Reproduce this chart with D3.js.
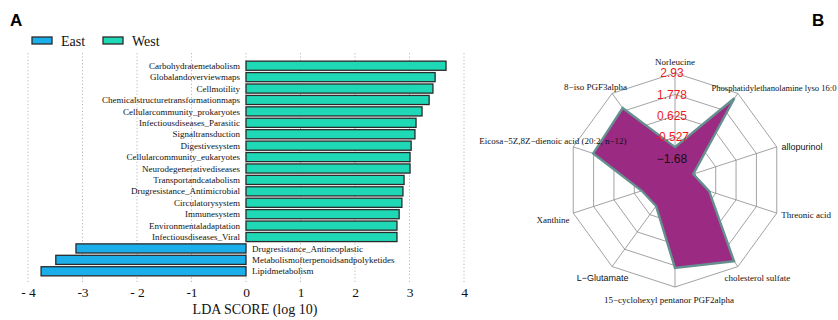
<!DOCTYPE html>
<html>
<head>
<meta charset="utf-8">
<script src="https://cdn.jsdelivr.net/npm/d3@7"></script>
<style>
  html, body { margin: 0; padding: 0; background: #fff; }
  svg { display: block; }
</style>
</head>
<body>
<svg id="chart" width="838" height="320"></svg>
<script>
// ---------- Panel A data ----------
const categories = [
  "Carbohydratemetabolism", "Globalandoverviewmaps", "Cellmotility",
  "Chemicalstructuretransformationmaps", "Cellularcommunity_prokaryotes",
  "Infectiousdiseases_Parasitic", "Signaltransduction", "Digestivesystem",
  "Cellularcommunity_eukaryotes", "Neurodegenerativediseases",
  "Transportandcatabolism", "Drugresistance_Antimicrobial", "Circulatorysystem",
  "Immunesystem", "Environmentaladaptation", "Infectiousdiseases_Viral",
  "Drugresistance_Antineoplastic", "Metabolismofterpenoidsandpolyketides",
  "Lipidmetabolism"
];
const ldaScores = [
  3.67, 3.47, 3.43, 3.36, 3.23, 3.12, 3.10, 3.03, 3.01, 3.01,
  2.90, 2.88, 2.86, 2.81, 2.77, 2.77,
  -3.12, -3.49, -3.76
];
const groups = [
  "West","West","West","West","West","West","West","West","West","West",
  "West","West","West","West","West","West",
  "East","East","East"
];
const legendGroups = ["East", "West"];
const tickValues = [-4, -3, -2, -1, 0, 1, 2, 3, 4];
const tickLabels = ["- 4", "-3", "- 2", "-1", "0", "1", "2", "3", "4"];

// ---------- Panel B data ----------
const radarAxes = [
  "Norleucine",
  "Phosphatidylethanolamine lyso 16:0",
  "allopurinol",
  "Threonic acid",
  "cholesterol sulfate",
  "15\u2212cyclohexyl pentanor PGF2alpha",
  "L\u2212Glutamate",
  "Xanthine",
  "Eicosa\u22125Z,8Z\u2212dienoic acid (20:2, n\u221212)",
  "8\u2212iso PGF3alpha"
];
const radarValues = [-1.06, 2.61, -1.80, -0.90, 2.58, 1.91, -1.10, -0.95, 1.80, 1.96];
const ringValues = [2.93, 1.778, 0.625, -0.527, -1.68];
const ringLabels = ["2.93", "1.778", "0.625", "-0.527", "\u22121.68"];
const ringLabelColors = ["#ee1c1c", "#ee1c1c", "#ee1c1c", "#ee1c1c", "#111"];

// ---------- styling / layout (not data) ----------
const colors = { East: "#1aaeea", West: "#1fd8b6" };
const serif = "'Liberation Serif', 'Times New Roman', serif";
const sans = "'Liberation Sans', Arial, sans-serif";
const radarFontFamily = [serif, serif, sans, serif, serif, serif, sans, serif, serif, serif];
const radarFontSize = [9, 8.6, 9, 9, 9, 9, 9, 9, 9, 9];
const radarLabelNudge = [
  {dx: 0, dy: 0, anchor: "middle"},
  {dx: -39, dy: 3, anchor: "start"},
  {dx: 5, dy: 3, anchor: "middle"},
  {dx: 9, dy: -2, anchor: "middle"},
  {dx: 7, dy: 3, anchor: "middle"},
  {dx: -6, dy: 2, anchor: "middle"},
  {dx: 3, dy: 3, anchor: "middle"},
  {dx: 0, dy: 3, anchor: "middle"},
  {dx: 0, dy: -3, anchor: "middle"},
  {dx: -4, dy: 2, anchor: "middle"}
];

const svg = d3.select("#chart");

// ================= Panel A =================
const x = d3.scaleLinear().domain([-4, 4]).range([28, 464]);
const y = d3.scaleBand().domain(categories).range([60, 277]).paddingInner(0.2).paddingOuter(0.1);

const gA = svg.append("g");

// panel letter
svg.append("text").attr("x", 10).attr("y", 26)
  .attr("font-family", sans).attr("font-weight", "bold").attr("font-size", 17)
  .text("A");

// grid lines
gA.append("g").selectAll("line").data(tickValues).join("line")
  .attr("x1", d => x(d)).attr("x2", d => x(d))
  .attr("y1", 53).attr("y2", 283)
  .attr("stroke", "#b8b8b8").attr("stroke-width", 1)
  .attr("stroke-dasharray", "1.2,2.2");

// bars
const data = categories.map((c, i) => ({ c, v: ldaScores[i], g: groups[i] }));
gA.append("g").selectAll("rect").data(data).join("rect")
  .attr("x", d => x(Math.min(0, d.v)))
  .attr("width", d => Math.abs(x(d.v) - x(0)))
  .attr("y", d => y(d.c))
  .attr("height", y.bandwidth())
  .attr("fill", d => colors[d.g])
  .attr("stroke", "#2a2a2a").attr("stroke-width", 1.3);

// bar labels
gA.append("g").selectAll("text").data(data).join("text")
  .attr("x", d => d.v >= 0 ? x(0) - 6 : x(0) + 6)
  .attr("y", d => y(d.c) + y.bandwidth() / 2)
  .attr("dy", "0.35em")
  .attr("text-anchor", d => d.v >= 0 ? "end" : "start")
  .attr("font-family", serif).attr("font-size", 9)
  .attr("fill", "#111")
  .text(d => d.c);

// x axis (no domain line)
const xAxis = d3.axisBottom(x).tickValues(tickValues)
  .tickFormat((d, i) => tickLabels[i]).tickSize(0).tickPadding(0);
const axG = gA.append("g").attr("transform", "translate(0,287)").call(xAxis);
axG.select(".domain").remove();
axG.selectAll("text").attr("font-family", serif).attr("font-size", 13.5)
  .attr("fill", "#111").attr("dy", "0.71em");

// axis title
gA.append("text").attr("x", 255).attr("y", 314)
  .attr("text-anchor", "middle")
  .attr("font-family", serif).attr("font-size", 14).attr("fill", "#111")
  .text("LDA SCORE (log 10)");

// legend
const legX = [32, 103];
const lg = gA.append("g").selectAll("g").data(legendGroups).join("g")
  .attr("transform", (d, i) => `translate(${legX[i]},37)`);
lg.append("rect").attr("width", 20).attr("height", 7)
  .attr("fill", d => colors[d]).attr("stroke", "#2a2a2a").attr("stroke-width", 1.3);
lg.append("text").attr("x", 29).attr("y", 9)
  .attr("font-family", serif).attr("font-size", 14).attr("fill", "#111")
  .text(d => d);

// ================= Panel B =================
svg.append("text").attr("x", 812).attr("y", 26)
  .attr("font-family", sans).attr("font-weight", "bold").attr("font-size", 17)
  .text("B");

const cx = 675, cy = 180, R = 107;
const n = radarAxes.length;
const angle = i => (i * 2 * Math.PI) / n;
const r = d3.scaleLinear().domain([ringValues[4], ringValues[0]]).range([0.2 * R, R]);

const gB = svg.append("g").attr("transform", `translate(${cx},${cy})`);

// rings
const ringLine = d3.lineRadial().curve(d3.curveLinearClosed)
  .angle((d, i) => angle(i)).radius(d => d);
gB.append("g").selectAll("path").data(ringValues).join("path")
  .attr("d", v => ringLine(d3.range(n).map(() => r(v))))
  .attr("fill", "none").attr("stroke", "#8a8a8a").attr("stroke-width", 0.8);

// spokes
gB.append("g").selectAll("line").data(d3.range(n)).join("line")
  .attr("x1", 0).attr("y1", 0)
  .attr("x2", i => R * Math.sin(angle(i)))
  .attr("y2", i => -R * Math.cos(angle(i)))
  .attr("stroke", "#8a8a8a").attr("stroke-width", 0.8);

// data polygon
gB.append("path")
  .attr("d", ringLine(radarValues.map(v => r(v))))
  .attr("fill", "#9b2a83")
  .attr("stroke", "#66908f").attr("stroke-width", 2.4)
  .attr("stroke-linejoin", "miter");

// ring labels
gB.append("g").selectAll("text").data(ringValues).join("text")
  .attr("x", -3)
  .attr("y", v => -r(v))
  .attr("dy", "0.35em")
  .attr("text-anchor", "middle")
  .attr("font-family", sans).attr("font-size", 12)
  .attr("fill", (v, i) => ringLabelColors[i])
  .text((v, i) => ringLabels[i]);

// axis labels
gB.append("g").selectAll("text").data(radarAxes).join("text")
  .attr("x", (d, i) => 1.2 * R * Math.sin(angle(i)) + radarLabelNudge[i].dx)
  .attr("y", (d, i) => -1.1 * R * Math.cos(angle(i)) + radarLabelNudge[i].dy)
  .attr("dy", "0.35em")
  .attr("text-anchor", (d, i) => radarLabelNudge[i].anchor)
  .attr("font-family", (d, i) => radarFontFamily[i])
  .attr("font-size", (d, i) => radarFontSize[i])
  .attr("fill", "#111")
  .text(d => d);
</script>
</body>
</html>
